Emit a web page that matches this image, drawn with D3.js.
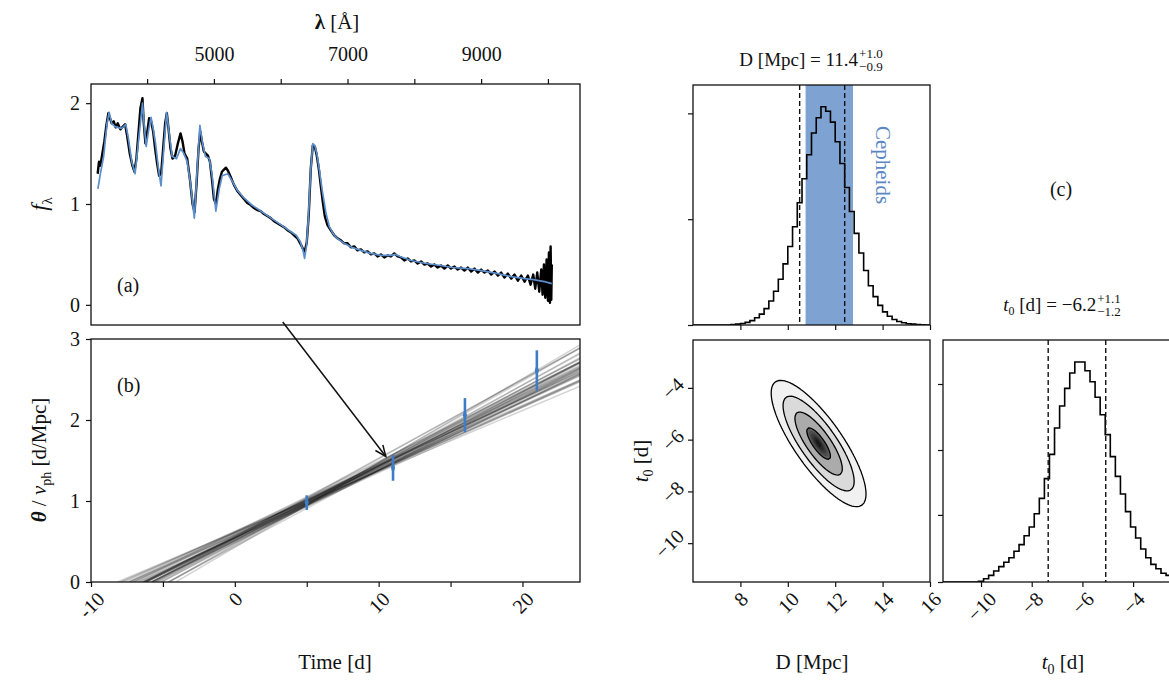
<!DOCTYPE html>
<html>
<head>
<meta charset="utf-8">
<script src="https://cdn.jsdelivr.net/npm/d3@7"></script>
<style>
  body { margin: 0; background: #fff; }
  svg { display: block; }
  text { font-family: "Liberation Serif", "DejaVu Serif", serif; fill: #111; }
</style>
</head>
<body>
<svg id="fig" width="1169" height="680"></svg>
<script>
// ---- data ----

// (a) observed spectrum [wavelength A, flux]
const obsSpec = [
  [3260,1.30],[3280,1.42],[3300,1.38],[3330,1.50],[3360,1.62],[3390,1.78],[3420,1.90],[3440,1.86],[3470,1.80],[3500,1.82],
  [3530,1.76],[3560,1.80],[3600,1.74],[3640,1.77],[3670,1.79],[3700,1.68],[3740,1.50],[3780,1.38],[3810,1.32],[3840,1.45],
  [3870,1.70],[3900,1.95],[3930,2.05],[3950,1.80],[3975,1.60],[4000,1.70],[4030,1.85],[4060,1.82],[4090,1.72],[4120,1.55],
  [4150,1.40],[4180,1.28],[4210,1.30],[4240,1.55],[4270,1.80],[4295,1.90],[4320,1.75],[4350,1.55],[4380,1.45],[4420,1.48],
  [4460,1.60],[4500,1.70],[4530,1.62],[4560,1.50],[4600,1.45],[4640,1.25],[4680,1.00],[4710,0.92],[4740,1.20],[4770,1.55],
  [4795,1.72],[4820,1.62],[4850,1.52],[4880,1.50],[4910,1.48],[4940,1.42],[4970,1.25],[5000,1.05],[5030,1.00],[5060,1.15],
  [5090,1.25],[5120,1.32],[5150,1.34],[5180,1.36],[5210,1.33],[5250,1.27],[5300,1.19],[5350,1.13],[5400,1.09],[5450,1.05],
  [5500,1.01],[5550,0.99],[5600,0.96],[5650,0.94],[5700,0.93],[5750,0.90],[5800,0.88],[5850,0.86],[5900,0.83],[5950,0.81],
  [6000,0.79],[6050,0.77],[6100,0.74],[6150,0.72],[6200,0.69],[6250,0.66],[6300,0.60],[6330,0.56],[6360,0.53],[6390,0.62],
  [6420,0.90],[6450,1.35],[6480,1.58],[6510,1.57],[6540,1.48],[6570,1.35],[6600,1.18],[6630,1.02],[6660,0.88],[6700,0.79],
  [6750,0.74],[6800,0.69],[6850,0.66],[6900,0.64],[6950,0.61],[7000,0.61],[7050,0.57],[7100,0.58],[7150,0.54],[7200,0.55],
  [7250,0.52],[7300,0.53],[7350,0.50],[7400,0.51],[7450,0.48],[7500,0.50],[7550,0.47],[7600,0.49],[7650,0.48],[7700,0.51],
  [7750,0.48],[7800,0.47],[7850,0.44],[7900,0.46],[7950,0.43],[8000,0.44],[8050,0.41],[8100,0.43],[8150,0.40],[8200,0.41],
  [8250,0.38],[8300,0.40],[8350,0.37],[8400,0.39],[8450,0.36],[8500,0.39],[8550,0.36],[8600,0.38],[8650,0.35],[8700,0.37],
  [8750,0.34],[8800,0.37],[8850,0.33],[8900,0.36],[8950,0.32],[9000,0.35],[9050,0.32],[9100,0.34],[9150,0.30],[9200,0.33],
  [9250,0.29],[9300,0.32],[9350,0.27],[9400,0.31],[9450,0.26],[9500,0.30],[9550,0.24],[9600,0.29],[9650,0.23],[9700,0.29],
  [9740,0.20],[9780,0.30],[9810,0.16],[9840,0.32],[9870,0.13],[9900,0.35],[9920,0.10],[9940,0.40],[9960,0.07],[9980,0.45],
  [10000,0.04],[10015,0.52],[10030,0.02],[10040,0.58],[10050,0.05],[10058,0.40]
];

// (a) model spectrum
const modelSpec = [
  [3263,1.15],[3300,1.30],[3349,1.47],[3400,1.80],[3432,1.91],[3470,1.80],[3515,1.77],[3560,1.76],[3620,1.75],[3681,1.79],
  [3720,1.65],[3770,1.42],[3820,1.30],[3870,1.62],[3931,2.00],[3960,1.75],[3986,1.57],[4020,1.72],[4058,1.86],[4090,1.75],
  [4126,1.60],[4170,1.35],[4208,1.18],[4250,1.55],[4292,1.91],[4330,1.70],[4375,1.47],[4440,1.45],[4500,1.55],[4550,1.50],
  [4600,1.42],[4650,1.20],[4707,0.86],[4750,1.35],[4790,1.78],[4830,1.60],[4874,1.47],[4930,1.45],[4970,1.30],[5029,0.93],
  [5080,1.15],[5124,1.28],[5207,1.30],[5280,1.22],[5346,1.14],[5450,1.06],[5567,0.99],[5680,0.94],[5789,0.89],[5900,0.84],
  [6010,0.79],[6120,0.74],[6232,0.69],[6290,0.63],[6330,0.55],[6357,0.46],[6385,0.58],[6413,0.85],[6450,1.35],[6481,1.60],
  [6510,1.58],[6541,1.50],[6580,1.33],[6620,1.14],[6680,0.90],[6731,0.77],[6790,0.70],[6842,0.66],[6950,0.61],[7064,0.57],
  [7200,0.54],[7342,0.51],[7500,0.49],[7650,0.49],[7720,0.50],[7786,0.48],[7950,0.44],[8174,0.41],[8400,0.39],[8563,0.37],
  [8800,0.36],[9006,0.34],[9250,0.31],[9450,0.28],[9650,0.26],[9783,0.25],[9950,0.23],[10058,0.21]
];

const lamTicks = [4000, 5000, 6000, 7000, 8000, 9000, 10000];
const lamLabels = [5000, 7000, 9000];
const fluxTicks = [0, 1, 2];

// (b) theta / v_ph measurements: time, value, error
const epochT = [5, 11, 16, 21];
const epochY = [0.98, 1.41, 2.06, 2.61];
const epochErr = [0.09, 0.16, 0.21, 0.25];

// posterior draws [D Mpc, t0 d] for the fan of lines
const drawD = [11.4,10.5,12.3,11.0,11.8,9.9,12.9,11.2,11.6,10.8,12.0,10.2,12.6,11.3,11.5,10.6,12.2,9.6,13.3,11.1,
               11.7,10.9,11.9,10.4,12.4,11.4,11.0,11.8,10.7,12.1,11.3,11.5,10.1,12.8,11.6,11.2,10.3,12.5,11.4,11.4];
const drawT0 = [-6.20,-5.09,-7.37,-6.28,-6.25,-4.59,-7.87,-5.45,-6.77,-5.77,-6.57,-5.51,-7.31,-5.79,-6.36,-4.64,-7.63,-4.10,-8.16,-6.14,
                -6.08,-5.56,-7.02,-5.29,-6.74,-6.99,-5.73,-6.43,-5.11,-7.35,-6.22,-6.18,-4.56,-7.95,-5.80,-6.36,-5.74,-7.15,-5.77,-6.38];

const timeTicks = [-10, 0, 10, 20];
const timeMinor = [-5, 5, 15];
const thetaTicks = [0, 1, 2, 3];

// (c) marginal histograms, bin width 0.2
const dBinStart = 6.0;
const dHist = [0,0,0,0,0,0,0,0,0.002,0.004,
               0.007,0.012,0.02,0.033,0.05,0.075,0.11,0.155,0.21,0.28,
               0.36,0.45,0.56,0.67,0.78,0.88,0.95,1.0,0.98,0.93,
               0.84,0.74,0.63,0.52,0.42,0.33,0.25,0.18,0.13,0.09,
               0.06,0.04,0.025,0.016,0.01,0.006,0.004,0.002,0.001,0];
const t0BinStart = -11.5;
const t0Hist = [0,0,0,0,0,0,0,0.003,0.015,0.03,
                0.05,0.07,0.09,0.11,0.14,0.17,0.21,0.25,0.31,0.38,
                0.47,0.58,0.70,0.80,0.88,0.95,1.0,1.0,0.96,0.91,
                0.84,0.76,0.67,0.57,0.48,0.40,0.32,0.25,0.20,0.15,
                0.11,0.08,0.06,0.04,0.03,0.02,0.012];
const binW = 0.2;

const dQuant = [10.5, 11.4, 12.4];
const t0Quant = [-7.35, -6.2, -5.08];
const cepheidBand = [10.75, 12.75];

// 2-d posterior summary for the contour panel
const postMean = [11.3, -6.15];
const postSigma = [1.0, 1.22];
const postRho = -0.8;
const sigmaLevels = [0.5, 1, 1.5, 2];

const dTicks = [8, 10, 12, 14, 16];
const t0Ticks = [-10, -8, -6, -4];
const histTicksD = [0, 0.485, 0.97];
const histTicksT = [0, 0.305, 0.6, 0.9];

// ---- drawing ----
const svg = d3.select('#fig');
const ink = '#111';
const blue = '#5b8ecb';

const aX = d3.scaleLinear([3160, 10480], [91, 580]);
const aY = d3.scaleLinear([-0.2, 2.19], [325, 84]);
const bX = d3.scaleLinear([-10, 24], [91, 580]);
const bY = d3.scaleLinear([0, 3], [582, 339]);
const dX = d3.scaleLinear([6, 16], [693, 930]);
const hY = d3.scaleLinear([0, 1.1], [325, 85]);
const tY = d3.scaleLinear([-11.5, -2.15], [582, 340]);
const tX = d3.scaleLinear([-11.5, -2.15], [943, 1180]);
const hY2 = d3.scaleLinear([0, 1.1], [582, 340]);

function clip(id, x0, y0, x1, y1) {
  svg.append('clipPath').attr('id', id).append('rect')
    .attr('x', x0).attr('y', y0).attr('width', x1 - x0).attr('height', y1 - y0);
}
function frame(x0, y0, x1, y1) {
  svg.append('rect').attr('x', x0).attr('y', y0).attr('width', x1 - x0).attr('height', y1 - y0)
    .attr('fill', 'none').attr('stroke', ink).attr('stroke-width', 1.3);
}
function styleAxis(g, size) {
  g.select('.domain').remove();
  g.selectAll('.tick line').attr('stroke', ink).attr('stroke-width', 1.2);
  g.selectAll('.tick text').attr('font-size', size || 20).attr('fill', ink)
    .style('font-family', '"Liberation Serif","DejaVu Serif",serif');
}
// rotate tick labels 45 deg, bbox centred on the tick
function rotBottom(g, gap) {
  g.selectAll('.tick text').each(function () {
    const w = this.getComputedTextLength(), h = 13;
    const off = gap + (w + h) / (2 * Math.SQRT2);
    d3.select(this).attr('x', 0).attr('y', 0).attr('dy', null)
      .attr('text-anchor', 'middle').attr('dominant-baseline', 'central')
      .attr('transform', `translate(0,${off}) rotate(-45)`);
  });
}
function rotLeft(g, gap) {
  g.selectAll('.tick text').each(function () {
    const w = this.getComputedTextLength(), h = 13;
    const off = gap + (w + h) / (2 * Math.SQRT2);
    d3.select(this).attr('x', 0).attr('y', 0).attr('dy', null)
      .attr('text-anchor', 'middle').attr('dominant-baseline', 'central')
      .attr('transform', `translate(${-off},0) rotate(-45)`);
  });
}
const minus = d => (d < 0 ? '\u2212' + Math.abs(d) : '' + d);
const plain = d => '' + d;

// ---------- panel (a) ----------
clip('clipA', 91, 84, 580, 325);
const gA = svg.append('g').attr('clip-path', 'url(#clipA)');
const specLine = d3.line().x(d => aX(d[0])).y(d => aY(d[1]));
gA.append('path').datum(obsSpec).attr('d', specLine)
  .attr('fill', 'none').attr('stroke', '#000').attr('stroke-width', 2.4).attr('stroke-linejoin', 'round');
gA.append('path').datum(modelSpec).attr('d', specLine)
  .attr('fill', 'none').attr('stroke', blue).attr('stroke-width', 1.7).attr('stroke-linejoin', 'round');

const axTop = svg.append('g').attr('transform', 'translate(0,84)')
  .call(d3.axisTop(aX).tickValues(lamTicks).tickSize(5).tickSizeOuter(0)
    .tickFormat(d => (lamLabels.includes(d) ? d : '')));
styleAxis(axTop);
axTop.selectAll('.tick text').attr('y', -23);
const axAL = svg.append('g').attr('transform', 'translate(91,0)')
  .call(d3.axisLeft(aY).tickValues(fluxTicks).tickSize(5).tickSizeOuter(0).tickFormat(plain));
styleAxis(axAL);
axAL.selectAll('.tick text').attr('x', -11);
frame(91, 84, 580, 325);

svg.append('text').attr('x', 337).attr('y', 29).attr('text-anchor', 'middle').attr('font-size', 21)
  .html('<tspan font-weight="bold">λ</tspan> [Å]');
svg.append('text').attr('transform', 'translate(47,204) rotate(-90)').attr('text-anchor', 'middle')
  .attr('font-size', 23)
  .html('<tspan font-style="italic">f</tspan><tspan font-size="15" dy="5">λ</tspan>');
svg.append('text').attr('x', 117).attr('y', 292).attr('font-size', 20).text('(a)');

// ---------- panel (b) ----------
clip('clipB', 91, 339, 580, 582);
const gB = svg.append('g').attr('clip-path', 'url(#clipB)');
drawD.forEach((D, i) => {
  const t0 = drawT0[i];
  gB.append('line')
    .attr('x1', bX(t0)).attr('y1', bY(0))
    .attr('x2', bX(24)).attr('y2', bY((24 - t0) / D))
    .attr('stroke', '#000').attr('stroke-opacity', 0.17).attr('stroke-width', 1.5);
});
epochT.forEach((t, i) => {
  gB.append('line').attr('x1', bX(t)).attr('x2', bX(t))
    .attr('y1', bY(epochY[i] - epochErr[i])).attr('y2', bY(epochY[i] + epochErr[i]))
    .attr('stroke', '#3f7cc6').attr('stroke-width', 2.6);
  gB.append('path').attr('d', d3.symbol(d3.symbolDiamond, 30)())
    .attr('transform', `translate(${bX(t)},${bY(epochY[i])}) scale(0.7,1.3)`)
    .attr('fill', '#3f7cc6');
});

const axBB = svg.append('g').attr('transform', 'translate(0,582)')
  .call(d3.axisBottom(bX).tickValues(timeTicks.concat(timeMinor)).tickSize(5).tickSizeOuter(0)
    .tickFormat(d => (timeTicks.includes(d) ? d : '')));
styleAxis(axBB);
rotBottom(axBB, 9);
const axBL = svg.append('g').attr('transform', 'translate(91,0)')
  .call(d3.axisLeft(bY).tickValues(thetaTicks).tickSize(5).tickSizeOuter(0).tickFormat(plain));
styleAxis(axBL);
axBL.selectAll('.tick text').attr('x', -11);
frame(91, 339, 580, 582);

svg.append('text').attr('x', 335).attr('y', 669).attr('text-anchor', 'middle').attr('font-size', 21)
  .text('Time [d]');
svg.append('text').attr('transform', 'translate(46,460) rotate(-90)').attr('text-anchor', 'middle')
  .attr('font-size', 21)
  .html('<tspan font-style="italic" font-weight="bold">θ</tspan> / <tspan font-style="italic">v</tspan>' +
        '<tspan font-size="14" dy="5">ph</tspan><tspan dy="-5"> [d/Mpc]</tspan>');
svg.append('text').attr('x', 117).attr('y', 392).attr('font-size', 20).text('(b)');

// arrow from (a) to (b)
{
  const x1 = aX(6030), y1 = aY(-0.17), x2 = bX(10.5), y2 = bY(1.55);
  svg.append('line').attr('x1', x1).attr('y1', y1).attr('x2', x2).attr('y2', y2)
    .attr('stroke', ink).attr('stroke-width', 1.5);
  const ang = Math.atan2(y2 - y1, x2 - x1), L = 12, a = 0.4;
  const p = s => [x2 - L * Math.cos(ang + s * a), y2 - L * Math.sin(ang + s * a)];
  svg.append('path').attr('d', d3.line()([p(1), [x2, y2], p(-1)]))
    .attr('fill', 'none').attr('stroke', ink).attr('stroke-width', 1.5);
}

// ---------- panel (c): corner plot ----------
function stepPath(hist, start, xs, ys) {
  const pts = [];
  hist.forEach((v, i) => {
    pts.push([xs(start + i * binW), ys(v)]);
    pts.push([xs(start + (i + 1) * binW), ys(v)]);
  });
  return d3.line()(pts);
}

// top: D histogram
clip('clipH1', 693, 85, 930, 325);
const gH1 = svg.append('g').attr('clip-path', 'url(#clipH1)');
gH1.append('rect').attr('x', dX(cepheidBand[0])).attr('width', dX(cepheidBand[1]) - dX(cepheidBand[0]))
  .attr('y', 85).attr('height', 240).attr('fill', '#7ea3d2');
gH1.append('path').attr('d', stepPath(dHist, dBinStart, dX, hY))
  .attr('fill', 'none').attr('stroke', '#000').attr('stroke-width', 1.6);
[dQuant[0], dQuant[2]].forEach(q => {
  gH1.append('line').attr('x1', dX(q)).attr('x2', dX(q)).attr('y1', 85).attr('y2', 325)
    .attr('stroke', ink).attr('stroke-width', 1.4).attr('stroke-dasharray', '5,3');
});
gH1.append('text').attr('transform', 'translate(876,165) rotate(90)').attr('text-anchor', 'middle')
  .attr('font-size', 21).style('fill', '#5b86c4').text('Cepheids');
const axH1B = svg.append('g').attr('transform', 'translate(0,325)')
  .call(d3.axisBottom(dX).tickValues(dTicks).tickSize(5).tickSizeOuter(0).tickFormat(''));
styleAxis(axH1B);
const axH1L = svg.append('g').attr('transform', 'translate(693,0)')
  .call(d3.axisLeft(hY).tickValues(histTicksD).tickSize(5).tickSizeOuter(0).tickFormat(''));
styleAxis(axH1L);
frame(693, 85, 930, 325);

function titleWithErr(cx, y, mainHtml, sup, sub) {
  const t = svg.append('text').attr('x', 0).attr('y', y).attr('font-size', 19).html(mainHtml);
  const w = t.node().getComputedTextLength();
  const s1 = svg.append('text').attr('y', y - 8).attr('font-size', 13).text(sup);
  const s2 = svg.append('text').attr('y', y + 5).attr('font-size', 13).text(sub);
  const ew = Math.max(s1.node().getComputedTextLength(), s2.node().getComputedTextLength());
  const x0 = cx - (w + ew + 1) / 2;
  t.attr('x', x0);
  s1.attr('x', x0 + w + 1);
  s2.attr('x', x0 + w + 1);
}
titleWithErr(811, 66, 'D [Mpc] = 11.4', '+1.0', '\u22120.9');
titleWithErr(1062, 311, '<tspan font-style="italic">t</tspan><tspan font-size="12" dy="4">0</tspan><tspan dy="-4"> [d] = \u22126.2</tspan>', '+1.1', '\u22121.2');

// contour panel
clip('clipC', 693, 340, 930, 582);
const gC = svg.append('g').attr('clip-path', 'url(#clipC)');
const nx = 120, ny = 120;
const gx = i => 6 + i * 10 / nx, gy = j => -11.5 + j * 9.35 / ny;
const grid = new Array(nx * ny);
for (let j = 0; j < ny; j++) {
  for (let i = 0; i < nx; i++) {
    const u = (gx(i + 0.5) - postMean[0]) / postSigma[0];
    const v = (gy(j + 0.5) - postMean[1]) / postSigma[1];
    const q = (u * u - 2 * postRho * u * v + v * v) / (1 - postRho * postRho);
    grid[j * nx + i] = Math.exp(-0.5 * q);
  }
}
const proj = d3.geoTransform({
  point(x, y) { this.stream.point(dX(gx(x)), tY(gy(y))); }
});
const cPath = d3.geoPath(proj);
const lineLevels = sigmaLevels.map(s => Math.exp(-0.5 * s * s)).sort((a, b) => a - b);
const fillLevels = lineLevels.concat([0.92, 0.95, 0.975, 0.99]);
const fillCols = ['#f1f1f1', '#dadada', '#ababab', '#606060', '#4c4c4c', '#3a3a3a', '#282828', '#181818'];
d3.contours().size([nx, ny]).thresholds(fillLevels)(grid).forEach((c, k) => {
  gC.append('path').attr('d', cPath(c)).attr('fill', fillCols[k]).attr('stroke', 'none');
});
d3.contours().size([nx, ny]).thresholds(lineLevels)(grid).forEach(c => {
  gC.append('path').attr('d', cPath(c)).attr('fill', 'none').attr('stroke', '#000').attr('stroke-width', 1.3);
});
const axCB = svg.append('g').attr('transform', 'translate(0,582)')
  .call(d3.axisBottom(dX).tickValues(dTicks).tickSize(5).tickSizeOuter(0).tickFormat(plain));
styleAxis(axCB);
rotBottom(axCB, 9);
const axCL = svg.append('g').attr('transform', 'translate(693,0)')
  .call(d3.axisLeft(tY).tickValues(t0Ticks).tickSize(5).tickSizeOuter(0).tickFormat(minus));
styleAxis(axCL);
rotLeft(axCL, 8);
frame(693, 340, 930, 582);
svg.append('text').attr('x', 812).attr('y', 669).attr('text-anchor', 'middle').attr('font-size', 21)
  .text('D [Mpc]');
svg.append('text').attr('transform', 'translate(648,461) rotate(-90)').attr('text-anchor', 'middle')
  .attr('font-size', 21)
  .html('<tspan font-style="italic">t</tspan><tspan font-size="14" dy="5">0</tspan><tspan dy="-5"> [d]</tspan>');

// right: t0 histogram
clip('clipH2', 943, 340, 1180, 582);
const gH2 = svg.append('g').attr('clip-path', 'url(#clipH2)');
gH2.append('path').attr('d', stepPath(t0Hist, t0BinStart, tX, hY2))
  .attr('fill', 'none').attr('stroke', '#000').attr('stroke-width', 1.6);
[t0Quant[0], t0Quant[2]].forEach(q => {
  gH2.append('line').attr('x1', tX(q)).attr('x2', tX(q)).attr('y1', 340).attr('y2', 582)
    .attr('stroke', ink).attr('stroke-width', 1.4).attr('stroke-dasharray', '5,3');
});
const axH2B = svg.append('g').attr('transform', 'translate(0,582)')
  .call(d3.axisBottom(tX).tickValues(t0Ticks).tickSize(5).tickSizeOuter(0).tickFormat(minus));
styleAxis(axH2B);
rotBottom(axH2B, 9);
const axH2L = svg.append('g').attr('transform', 'translate(943,0)')
  .call(d3.axisLeft(hY2).tickValues(histTicksT).tickSize(5).tickSizeOuter(0).tickFormat(''));
styleAxis(axH2L);
frame(943, 340, 1180, 582);
svg.append('text').attr('x', 1063).attr('y', 669).attr('text-anchor', 'middle').attr('font-size', 21)
  .html('<tspan font-style="italic">t</tspan><tspan font-size="14" dy="5">0</tspan><tspan dy="-5"> [d]</tspan>');

svg.append('text').attr('x', 1061).attr('y', 196).attr('text-anchor', 'middle').attr('font-size', 20).text('(c)');
</script>
</body>
</html>
